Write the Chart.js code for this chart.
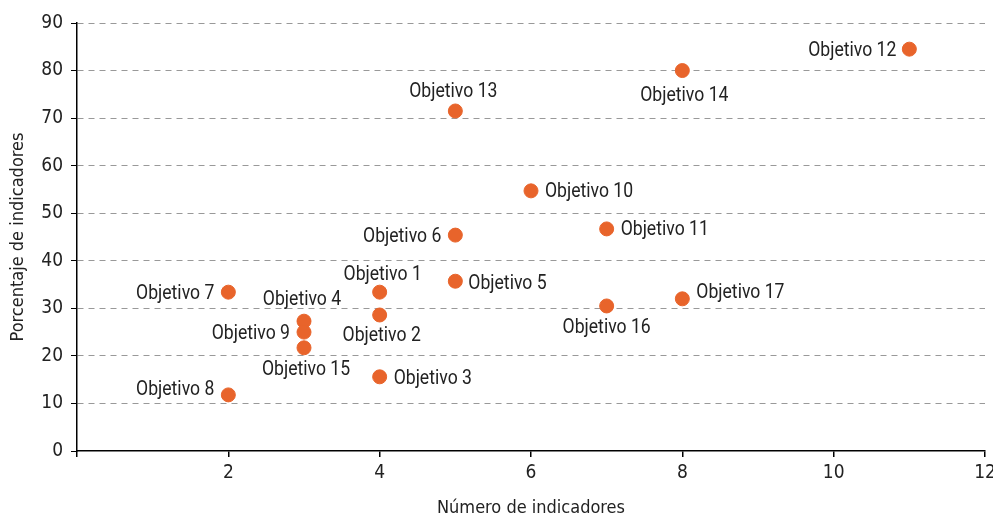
<!DOCTYPE html>
<html>
<head>
<meta charset="utf-8">
<script src="https://cdn.jsdelivr.net/npm/chart.js@4.5.0/dist/chart.umd.min.js"></script>
<style>
  html, body { margin: 0; padding: 0; background: #fff; }
  #wrap { width: 993px; height: 514px; }
</style>
</head>
<body>
<div id="wrap"><canvas id="scatterChart"></canvas></div>
<script>
const objetivos = ["Objetivo 1","Objetivo 2","Objetivo 3","Objetivo 4","Objetivo 5","Objetivo 6","Objetivo 7","Objetivo 8","Objetivo 9","Objetivo 10","Objetivo 11","Objetivo 12","Objetivo 13","Objetivo 14","Objetivo 15","Objetivo 16","Objetivo 17"]
const numIndicadores = [4, 4, 4, 3, 5, 5, 2, 2, 3, 6, 7, 11, 5, 8, 3, 7, 8]
const pctIndicadores = [33.4, 28.6, 15.6, 27.3, 35.7, 45.4, 33.4, 11.8, 25.0, 54.7, 46.7, 84.5, 71.5, 80.0, 21.7, 30.5, 32.0]
const xTicks = [2, 4, 6, 8, 10, 12]

const FONT = "'DejaVu Sans Condensed', Roboto, sans-serif"
const LABEL_FONT = "Roboto, sans-serif"
const ORANGE = "#e8642b"

// where each label sits relative to its dot: [dx, dy, align]
const labelPos = {
  "Objetivo 1": [3, -19, "center"],
  "Objetivo 2": [2, 20, "center"],
  "Objetivo 3": [14, 1, "left"],
  "Objetivo 4": [-2, -23, "center"],
  "Objetivo 5": [13, 1, "left"],
  "Objetivo 6": [-14, 0, "right"],
  "Objetivo 7": [-14, 0, "right"],
  "Objetivo 8": [-14, -6, "right"],
  "Objetivo 9": [-14, 0, "right"],
  "Objetivo 10": [14, 0, "left"],
  "Objetivo 11": [14, 0, "left"],
  "Objetivo 12": [-13, 0, "right"],
  "Objetivo 13": [-2, -20, "center"],
  "Objetivo 14": [2, 24, "center"],
  "Objetivo 15": [2, 21, "center"],
  "Objetivo 16": [0, 21, "center"],
  "Objetivo 17": [14, -7, "left"]
}

const pointLabels = {
  id: "pointLabels",
  afterDatasetsDraw(chart) {
    const ctx = chart.ctx
    const meta = chart.getDatasetMeta(0)
    ctx.save()
    ctx.font = "20px " + LABEL_FONT
    ctx.fillStyle = "#222"
    ctx.textBaseline = "middle"
    const sx = 0.88 // squeeze horizontally, the original face is condensed
    meta.data.forEach((pt, i) => {
      const name = objetivos[i]
      const p = labelPos[name] || [12, 0, "left"]
      ctx.save()
      ctx.translate(pt.x + p[0], pt.y + p[1] + 1.5)
      ctx.scale(sx, 1)
      ctx.textAlign = p[2]
      ctx.fillText(name, 0, 0)
      ctx.restore()
    })
    ctx.restore()
  }
}

new Chart(document.getElementById("scatterChart"), {
  type: "scatter",
  data: {
    datasets: [{
      data: numIndicadores.map((x, i) => ({ x: x, y: pctIndicadores[i] })),
      backgroundColor: ORANGE,
      borderColor: ORANGE,
      pointRadius: 7,
      pointHoverRadius: 7
    }]
  },
  options: {
    responsive: true,
    maintainAspectRatio: false,
    animation: false,
    layout: { padding: { top: 23, right: 0, left: 0, bottom: 0 } },
    plugins: { legend: { display: false }, tooltip: { enabled: false } },
    scales: {
      x: {
        type: "linear",
        min: 0,
        max: 12,
        afterBuildTicks: (axis) => { axis.ticks = [0].concat(xTicks).map(v => ({ value: v })) },
        afterFit: (axis) => { axis.height = 63; axis.paddingRight = 6 },
        ticks: {
          color: "#222",
          font: { family: FONT, size: 19 },
          padding: 5,
          maxRotation: 0,
          callback: (v) => v === 0 ? "" : v
        },
        grid: { display: true, drawOnChartArea: false, drawTicks: true, tickLength: 6, color: "#000", lineWidth: 1.5 },
        border: { display: true, color: "#000", width: 1.5 },
        title: { display: true, text: "Número de indicadores", color: "#222", font: { family: FONT, size: 18 }, padding: { top: 14, bottom: -5 } }
      },
      y: {
        min: 0,
        max: 90,
        afterFit: (axis) => { axis.width = 77 },
        ticks: { stepSize: 10, color: "#222", font: { family: FONT, size: 19 }, padding: 8 },
        grid: {
          color: (c) => c.tick.value === 0 ? "rgba(0,0,0,0)" : "#999",
          tickColor: "#000",
          tickLength: 6,
          lineWidth: 1
        },
        border: { display: true, color: "#000", width: 1.5, dash: [6, 5] },
        title: { display: true, text: "Porcentaje de indicadores", color: "#222", font: { family: FONT, size: 18 }, padding: { top: 8, bottom: 4 } }
      }
    }
  },
  plugins: [pointLabels]
})
</script>
</body>
</html>
